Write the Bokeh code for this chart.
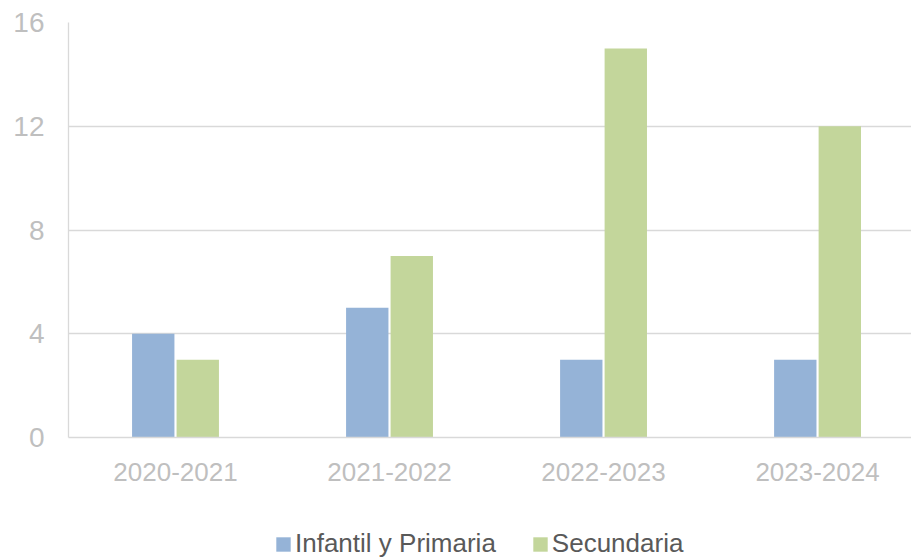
import numpy as np
from bokeh.plotting import figure
from bokeh.layouts import column
from bokeh.models import ColumnDataSource, Range1d, FixedTicker, Legend, LegendItem
from bokeh.transform import dodge
from bokeh.embed import file_html
from bokeh.resources import INLINE

categories = ["2020-2021", "2021-2022", "2022-2023", "2023-2024"]
infantil_primaria = [4, 5, 3, 3]
secundaria = [3, 7, 15, 12]
y_ticks = [0, 4, 8, 12, 16]
series_names = ["Infantil y Primaria", "Secundaria"]
colors = ["#95B3D7", "#C3D69B"]

pos = (np.arange(len(categories)) + 0.5).tolist()
src = ColumnDataSource(dict(x=pos, cat=categories, a=infantil_primaria, b=secundaria))

FONT = "Liberation Sans"
p = figure(width=911, height=500, output_backend="svg", toolbar_location=None,
           x_range=Range1d(0, 3.939), y_range=Range1d(0, 16),
           min_border_left=68, min_border_right=0, min_border_top=22, min_border_bottom=63)
p.outline_line_color = None
p.background_fill_color = "white"
p.border_fill_color = "white"

p.vbar(x=dodge("x", -0.104, range=p.x_range), top="a", width=0.198, source=src,
       fill_color=colors[0], line_color=None)
p.vbar(x=dodge("x", 0.104, range=p.x_range), top="b", width=0.198, source=src,
       fill_color=colors[1], line_color=None)

p.xgrid.grid_line_color = None
p.ygrid.grid_line_color = "#d9d9d9"
p.ygrid.grid_line_width = 1.3
p.ygrid.ticker = FixedTicker(ticks=y_ticks)

p.yaxis.ticker = FixedTicker(ticks=y_ticks)
p.yaxis.axis_line_color = "#d9d9d9"
p.yaxis.axis_line_width = 1.3
p.yaxis.major_tick_line_color = None
p.yaxis.minor_tick_line_color = None
p.yaxis.major_tick_out = 0
p.yaxis.major_tick_in = 0
p.yaxis.major_label_standoff = 24
p.yaxis.major_label_text_font = FONT
p.yaxis.major_label_text_font_size = "28px"
p.yaxis.major_label_text_color = "#bfbfbf"

p.xaxis.ticker = FixedTicker(ticks=pos)
p.xaxis.major_label_overrides = {v: c for v, c in zip(pos, categories)}
p.xaxis.axis_line_color = "#d9d9d9"
p.xaxis.axis_line_width = 1.3
p.xaxis.major_tick_line_color = None
p.xaxis.minor_tick_line_color = None
p.xaxis.major_tick_out = 0
p.xaxis.major_tick_in = 0
p.xaxis.major_label_standoff = 25
p.xaxis.major_label_text_font = FONT
p.xaxis.major_label_text_font_size = "26px"
p.xaxis.major_label_text_color = "#bfbfbf"

# legend strip below the chart (its renderers are hidden; only the legend shows)
leg = figure(width=911, height=60, output_backend="svg", toolbar_location=None,
             x_axis_type=None, y_axis_type=None, x_range=Range1d(100, 104), y_range=Range1d(-200, -100),
             min_border=0, min_border_left=0, min_border_right=0, min_border_top=0, min_border_bottom=0)
leg.outline_line_color = None
leg.xgrid.grid_line_color = None
leg.ygrid.grid_line_color = None
la = leg.vbar(x="x", top="a", width=0.2, source=src, fill_color=colors[0], line_color=None)
lb = leg.vbar(x="x", top="b", width=0.2, source=src, fill_color=colors[1], line_color=None)
la.visible = False
lb.visible = False

legend = Legend(items=[LegendItem(label=series_names[0], renderers=[la]),
                       LegendItem(label=series_names[1], renderers=[lb])],
                orientation="horizontal", location=(206, 1),
                glyph_width=18, glyph_height=18, label_standoff=3, spacing=35,
                padding=0, margin=0, border_line_color=None, background_fill_alpha=0,
                label_text_font=FONT, label_text_font_size="26px", label_text_color="#595959")
leg.add_layout(legend, "center")

layout = column(p, leg, spacing=0)
open("out.html", "w").write(file_html(layout, INLINE))
